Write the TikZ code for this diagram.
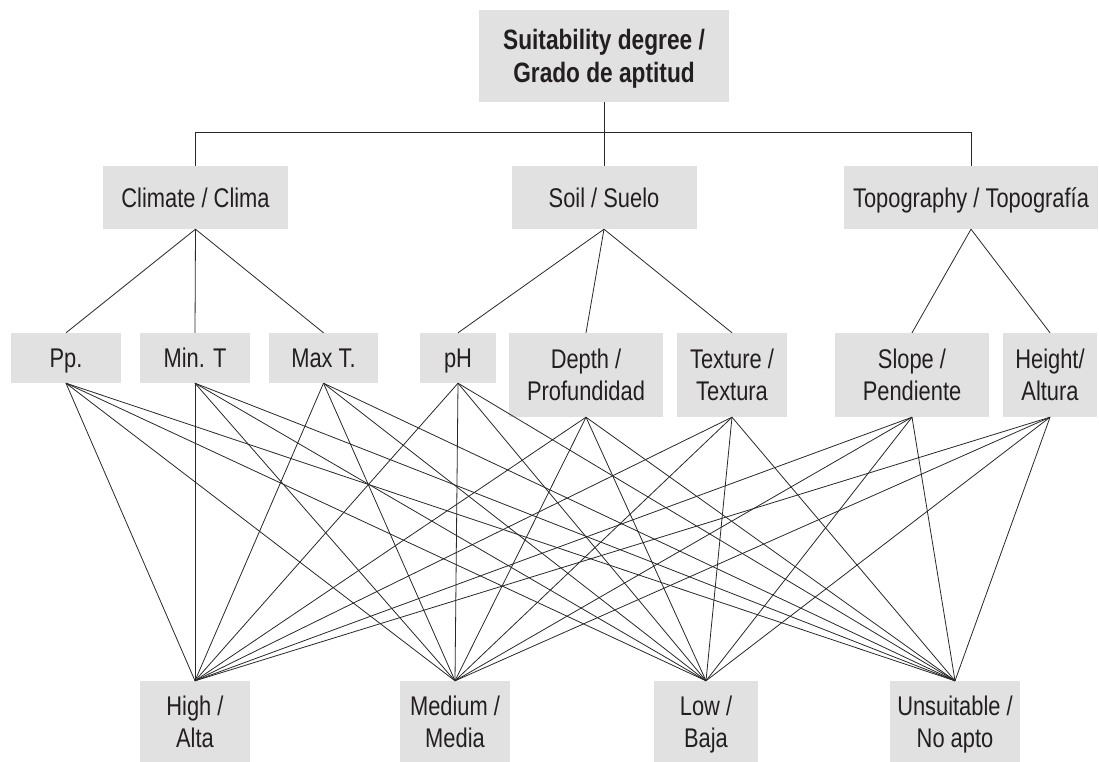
\documentclass[tikz,border=0pt]{standalone}
\usepackage{fontspec}
\setmainfont[FakeStretch=0.81]{Liberation Sans}
\definecolor{boxgray}{RGB}{225,225,225}
\definecolor{txt}{RGB}{35,31,32}
\definecolor{linec}{RGB}{40,40,40}
\begin{document}
\begin{tikzpicture}[x=1pt,y=-1pt,
  box/.style={fill=boxgray, inner sep=0pt, align=center, text=txt,
    font=\fontsize{27}{32}\selectfont},
  one/.style={box, text height=19.5pt, text depth=0pt},
  two/.style={box, text height=51.5pt, text depth=0pt},
  link/.style={draw=linec, line width=0.8pt}]
\useasboundingbox (0,0) rectangle (1099,762);
% top
\node[box, minimum width=250, minimum height=92, text height=53pt, text depth=0pt, font=\fontsize{28}{33}\selectfont\bfseries] (top) at (604,56) {Suitability degree /\\Grado de aptitud};
% level 2
\node[one, minimum width=185, minimum height=63] (climate) at (195.5,197.5) {Climate / Clima};
\node[one, minimum width=185, minimum height=63] (soil) at (604,197.5) {Soil / Suelo};
\node[one, minimum width=254, minimum height=63] (topo) at (971,197.5) {Topography / Topografía};
% level 3
\node[one, minimum width=110, minimum height=50] (pp) at (66,358) {Pp.};
\node[one, minimum width=110, minimum height=50] (mint) at (195,358) {Min. T};
\node[one, minimum width=109, minimum height=50] (maxt) at (323.5,358) {Max T.};
\node[one, minimum width=76, minimum height=50] (ph) at (458,358) {pH};
\node[two, minimum width=154, minimum height=84] (depth) at (586,375) {Depth /\\Profundidad};
\node[two, minimum width=110, minimum height=84] (texture) at (732,375) {Texture /\\Textura};
\node[two, minimum width=154, minimum height=84] (slope) at (912,375) {Slope /\\Pendiente};
\node[two, minimum width=94, minimum height=84] (height) at (1050,375) {Height/\\Altura};
% bottom
\node[two, minimum width=110, minimum height=81] (high) at (195,721.5) {High /\\Alta};
\node[two, minimum width=110, minimum height=81] (medium) at (455,721.5) {Medium /\\Media};
\node[two, minimum width=104, minimum height=81] (low) at (706,721.5) {Low /\\Baja};
\node[two, minimum width=130, minimum height=81] (unsuit) at (955,721.5) {Unsuitable /\\No apto};
% tree
\draw[link] (top.south) -- ++(0,30) coordinate (bus);
\draw[link] (climate.north) |- (bus) -| (topo.north);
\draw[link] (bus) -- (soil.north);
\foreach \c in {pp,mint,maxt} \draw[link] (climate.south) -- (\c.north);
\foreach \c in {ph,depth,texture} \draw[link] (soil.south) -- (\c.north);
\foreach \c in {slope,height} \draw[link] (topo.south) -- (\c.north);
% criteria to classes
\foreach \a in {pp,mint,maxt,ph,depth,texture,slope,height}
  \foreach \b in {high,medium,low,unsuit}
    \draw[link] (\a.south) -- (\b.north);
\end{tikzpicture}
\end{document}
